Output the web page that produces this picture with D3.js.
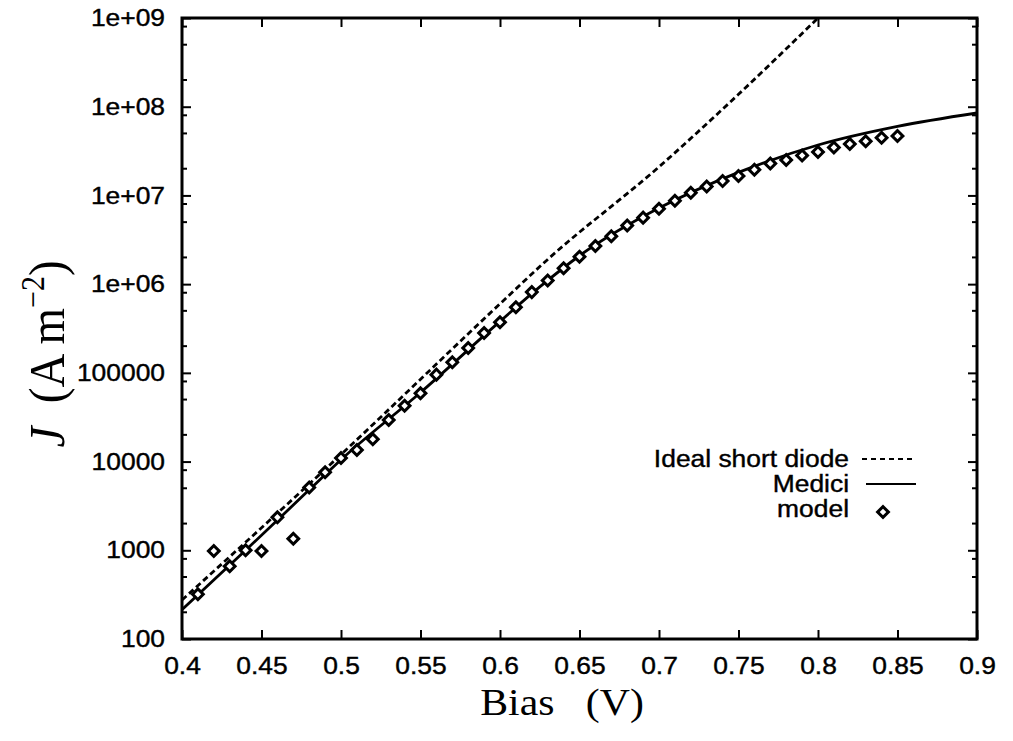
<!DOCTYPE html>
<meta charset="utf-8">
<head>
<style>
body {margin: 0; background: #fff;}
.axis text {font-family: "Liberation Sans", Arial, sans-serif; font-size: 24px; fill: #000; stroke: #000; stroke-width: 0.4;}
.axis line {stroke: #000; stroke-width: 2;}
.legend text {font-family: "Liberation Sans", Arial, sans-serif; font-size: 24px; fill: #000; stroke: #000; stroke-width: 0.4;}
.title {font-family: "Liberation Serif", "Times New Roman", serif; fill: #000;}
</style>
</head>
<body>
<svg id="chart" width="1013" height="741"></svg>

<script src="https://d3js.org/d3.v7.min.js"></script>
<script>

// tick values and labels
var biasTicks = [0.4, 0.45, 0.5, 0.55, 0.6, 0.65, 0.7, 0.75, 0.8, 0.85, 0.9];
var biasLabels = ["0.4", "0.45", "0.5", "0.55", "0.6", "0.65", "0.7", "0.75", "0.8", "0.85", "0.9"];
var jTicks = [1e2, 1e3, 1e4, 1e5, 1e6, 1e7, 1e8, 1e9];
var jLabels = ["100", "1000", "10000", "100000", "1e+06", "1e+07", "1e+08", "1e+09"];
var minorMult = [2, 5, 8];

// ideal short diode (dashed)
var idealBias = [0.4, 0.5, 0.6, 0.63, 0.7, 0.75, 0.8];
var idealJ = [275, 12000, 6.0e5, 1.9e6, 2.1e7, 1.38e8, 1.0e9];

// Medici simulation (solid)
var mediciBias = [0.4, 0.44, 0.48, 0.5, 0.55, 0.6, 0.625, 0.65, 0.7, 0.75, 0.8, 0.85, 0.9];
var mediciJ = [214, 1000, 4800, 10500, 6.0e4, 3.8e5, 9.3e5, 2.09e6, 7.2e6, 1.82e7, 3.7e7, 6.0e7, 8.5e7];

// model (diamonds)
var modelBias = [0.41, 0.42, 0.43, 0.44, 0.45, 0.46, 0.47, 0.48, 0.49, 0.5,
                 0.51, 0.52, 0.53, 0.54, 0.55, 0.56, 0.57, 0.58, 0.59, 0.6,
                 0.61, 0.62, 0.63, 0.64, 0.65, 0.66, 0.67, 0.68, 0.69, 0.7,
                 0.71, 0.72, 0.73, 0.74, 0.75, 0.76, 0.77, 0.78, 0.79, 0.8,
                 0.81, 0.82, 0.83, 0.84, 0.85];
var modelJ = [320, 980, 660, 1000, 980, 2350, 1350, 5100, 7600, 11000,
              13500, 17800, 29500, 42700, 58900, 95500, 1.32e5, 1.91e5, 2.82e5, 3.72e5,
              5.5e5, 8.13e5, 1.1e6, 1.51e6, 2.04e6, 2.69e6, 3.47e6, 4.57e6, 5.62e6, 7.08e6,
              8.7e6, 1.07e7, 1.26e7, 1.45e7, 1.66e7, 1.95e7, 2.29e7, 2.51e7, 2.82e7, 3.09e7,
              3.47e7, 3.8e7, 4.07e7, 4.47e7, 4.68e7];

var legendNames = ["Ideal short diode", "Medici", "model"];

// the scan is a bit wider than tall, so text gets stretched sideways
var sx = 1.1;

var margin = {top: 18, right: 36, bottom: 102, left: 182},
    width = 1013 - margin.left - margin.right,
    height = 741 - margin.top - margin.bottom;

var svg = d3.select("#chart")
  .append("g")
    .attr("transform", "translate(" + margin.left + "," + margin.top + ")");

var x = d3.scaleLinear().domain([0.4, 0.9]).range([0, width]);
var y = d3.scaleLog().domain([100, 1e9]).range([height, 0]);

// minor tick positions on log axis
var minorTicks = [];
jTicks.forEach(function(t) {
  if (t >= 1e9) return;
  minorMult.forEach(function(m) { minorTicks.push(t * m); });
});

// bottom axis
var xAxis = svg.append("g")
    .attr("class", "axis")
    .attr("transform", "translate(0," + height + ")")
    .call(d3.axisBottom(x).tickValues(biasTicks).tickSize(-9).tickSizeOuter(0).tickPadding(18)
      .tickFormat(function(d, i) { return biasLabels[i]; }));

// top axis, ticks only
svg.append("g")
    .attr("class", "axis")
    .call(d3.axisTop(x).tickValues(biasTicks).tickSize(-9).tickSizeOuter(0).tickFormat(""));

// left axis
var yAxis = svg.append("g")
    .attr("class", "axis")
    .call(d3.axisLeft(y).tickValues(jTicks).tickSize(-9).tickSizeOuter(0).tickPadding(17)
      .tickFormat(function(d, i) { return jLabels[i]; }));

// right axis, ticks only
svg.append("g")
    .attr("class", "axis")
    .attr("transform", "translate(" + width + ",0)")
    .call(d3.axisRight(y).tickValues(jTicks).tickSize(-9).tickSizeOuter(0).tickFormat(""));

svg.selectAll(".axis .domain").remove();

// stretch tick labels sideways to match the scan
xAxis.selectAll("text").attr("x", 0).attr("transform", "scale(" + sx + ",1)");
yAxis.selectAll("text").attr("x", -17 / sx).attr("transform", "scale(" + sx + ",1)");

// minor ticks on left and right
svg.append("g").selectAll("line.minl")
    .data(minorTicks).enter().append("line")
    .attr("x1", 0).attr("x2", 5)
    .attr("y1", function(d) { return y(d); }).attr("y2", function(d) { return y(d); })
    .attr("stroke", "#000").attr("stroke-width", 2);
svg.append("g").selectAll("line.minr")
    .data(minorTicks).enter().append("line")
    .attr("x1", width).attr("x2", width - 5)
    .attr("y1", function(d) { return y(d); }).attr("y2", function(d) { return y(d); })
    .attr("stroke", "#000").attr("stroke-width", 2);

// frame
svg.append("rect")
    .attr("width", width).attr("height", height)
    .attr("fill", "none").attr("stroke", "#000").attr("stroke-width", 3);

var clip = svg.append("defs").append("clipPath").attr("id", "clip")
  .append("rect").attr("width", width).attr("height", height);

var line = d3.line()
    .curve(d3.curveMonotoneX)
    .x(function(d) { return x(d[0]); })
    .y(function(d) { return y(d[1]); });

var plot = svg.append("g").attr("clip-path", "url(#clip)");

// ideal short diode
plot.append("path")
    .datum(d3.zip(idealBias, idealJ))
    .attr("d", line)
    .attr("fill", "none").attr("stroke", "#000").attr("stroke-width", 2.8)
    .attr("stroke-dasharray", "6,3.5");

// Medici
plot.append("path")
    .datum(d3.zip(mediciBias, mediciJ))
    .attr("d", line)
    .attr("fill", "none").attr("stroke", "#000").attr("stroke-width", 2.8);

// model points
var diamond = d3.symbol().type(d3.symbolSquare).size(58);
svg.append("g").selectAll(".dot")
    .data(d3.zip(modelBias, modelJ))
    .enter().append("path")
    .attr("class", "dot")
    .attr("d", diamond)
    .attr("transform", function(d) { return "translate(" + x(d[0]) + "," + y(d[1]) + ") rotate(45)"; })
    .attr("fill", "#fff").attr("stroke", "#000").attr("stroke-width", 3);

// legend
var legend = svg.append("g").attr("class", "legend");
var legY = [441, 466, 491];
legendNames.forEach(function(name, i) {
  legend.append("text")
      .attr("transform", "translate(" + (849 - margin.left) + "," + (legY[i] + 8) + ") scale(" + sx + ",1)")
      .attr("text-anchor", "end")
      .text(name);
});
legend.append("line")
    .attr("x1", 862 - margin.left).attr("x2", 916 - margin.left)
    .attr("y1", legY[0]).attr("y2", legY[0])
    .attr("stroke", "#000").attr("stroke-width", 2).attr("stroke-dasharray", "5,4");
legend.append("line")
    .attr("x1", 866 - margin.left).attr("x2", 916 - margin.left)
    .attr("y1", legY[1]).attr("y2", legY[1])
    .attr("stroke", "#000").attr("stroke-width", 2);
legend.append("path")
    .attr("d", diamond)
    .attr("transform", "translate(" + (883 - margin.left) + "," + (legY[2] + 3) + ") rotate(45)")
    .attr("fill", "#fff").attr("stroke", "#000").attr("stroke-width", 3);

// x axis title
svg.append("text")
    .attr("class", "title")
    .attr("transform", "translate(" + (562 - margin.left) + "," + (height + 76) + ") scale(" + sx + ",1)")
    .attr("text-anchor", "middle")
    .style("font-size", "38px")
    .style("white-space", "pre")
    .text("Bias   (V)");

// y axis title
var yt = svg.append("text")
    .attr("class", "title")
    .attr("transform", "translate(" + (64 - margin.left) + "," + (354 - margin.top) + ") scale(" + sx + ",1) rotate(-90)")
    .attr("text-anchor", "middle")
    .style("font-size", "47px")
    .style("white-space", "pre");
yt.append("tspan").style("font-style", "italic").text("J");
yt.append("tspan").text("  (A m");
yt.append("tspan").attr("dy", -18).style("font-size", "30px").text("\u22122");
yt.append("tspan").attr("dy", 18).text(")");

</script>
</body>
